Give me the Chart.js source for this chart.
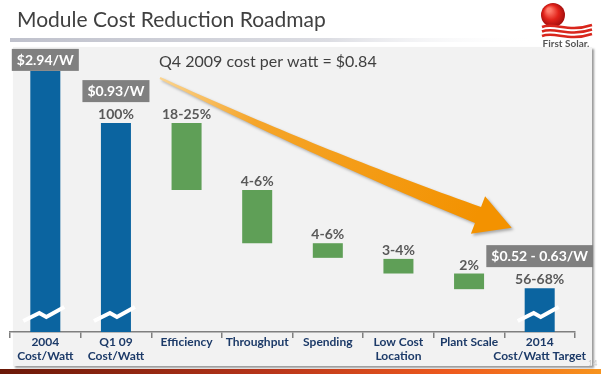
<!DOCTYPE html>
<html>
<head>
<meta charset="utf-8">
<script src="https://cdn.jsdelivr.net/npm/chart.js@4.4.1/dist/chart.umd.min.js"></script>
<style>
  body { margin: 0; background: #fff; }
  #wrap { width: 601px; height: 374px; }
</style>
</head>
<body>
<div id="wrap"><canvas id="roadmap" width="601" height="374"></canvas></div>
<script>
// categories along the bottom
const categories = [['2004', 'Cost/Watt'], ['Q1 09', 'Cost/Watt'], 'Efficiency', 'Throughput',
  'Spending', ['Low Cost', 'Location'], 'Plant Scale', ['2014', 'Cost/Watt Target']];
// bar bottoms and tops (visual scale, Q1 09 bar = 100; axis is broken)
const barLow = [0, 0, 68, 42.5, 35.5, 28, 20.5, 0];
const barHigh = [125, 100, 100, 68, 42.5, 35, 28, 21];
const barType = ['cost', 'cost', 'step', 'step', 'step', 'step', 'step', 'cost'];
const pctLabels = ['', '100%', '18-25%', '4-6%', '4-6%', '3-4%', '2%', '56-68%'];
const priceLabels = ['$2.94/W', '$0.93/W', '', '', '', '', '', '$0.52 - 0.63/W'];
const breakAt = 8.6;

const BLUE = '#0b64a0';
const GREEN = '#5f9f57';

function drawArrow(ctx) {
  const p0 = {x: 160, y: 78}, c = {x: 320, y: 155}, p2 = {x: 478, y: 215};
  const top = [], bot = [];
  let dir, nrm;
  for (let i = 0; i <= 40; i++) {
    const t = i / 40, u = 1 - t;
    const x = u * u * p0.x + 2 * u * t * c.x + t * t * p2.x;
    const y = u * u * p0.y + 2 * u * t * c.y + t * t * p2.y;
    const dx = 2 * u * (c.x - p0.x) + 2 * t * (p2.x - c.x);
    const dy = 2 * u * (c.y - p0.y) + 2 * t * (p2.y - c.y);
    const len = Math.hypot(dx, dy);
    dir = {x: dx / len, y: dy / len};
    nrm = {x: dir.y, y: -dir.x};
    const w = 1 + 7.5 * t;
    top.push([x + nrm.x * w, y + nrm.y * w]);
    bot.push([x - nrm.x * w, y - nrm.y * w]);
  }
  ctx.save();
  ctx.beginPath();
  top.forEach((p, i) => i ? ctx.lineTo(p[0], p[1]) : ctx.moveTo(p[0], p[1]));
  ctx.lineTo(p2.x + nrm.x * 20, p2.y + nrm.y * 20);
  ctx.lineTo(p2.x + dir.x * 36, p2.y + dir.y * 36);
  ctx.lineTo(p2.x - nrm.x * 20, p2.y - nrm.y * 20);
  for (let i = bot.length - 1; i >= 0; i--) ctx.lineTo(bot[i][0], bot[i][1]);
  ctx.closePath();
  const g = ctx.createLinearGradient(p0.x, p0.y, p2.x, p2.y);
  g.addColorStop(0, '#fbd48f');
  g.addColorStop(0.3, '#f5a52a');
  g.addColorStop(1, '#f39200');
  ctx.fillStyle = g;
  ctx.shadowColor = 'rgba(0,0,0,0.3)';
  ctx.shadowOffsetX = 2;
  ctx.shadowOffsetY = 2;
  ctx.shadowBlur = 3;
  ctx.fill();
  ctx.restore();
}

function drawLogo(ctx) {
  ctx.save();
  const rg = ctx.createRadialGradient(549, 10, 2, 553, 15, 13);
  rg.addColorStop(0, '#ff7b6b');
  rg.addColorStop(0.5, '#e2231a');
  rg.addColorStop(1, '#9a0c0c');
  ctx.fillStyle = rg;
  ctx.beginPath();
  ctx.arc(553, 15, 12, 0, Math.PI * 2);
  ctx.fill();
  ctx.strokeStyle = '#d9261c';
  ctx.lineWidth = 2.5;
  [27, 31.5, 36].forEach(b => {
    ctx.beginPath();
    ctx.moveTo(542, b);
    ctx.bezierCurveTo(555, b - 5, 568, b + 6, 592, b - 2);
    ctx.stroke();
  });
  ctx.fillStyle = '#555';
  ctx.font = 'bold 10px Lato';
  ctx.textAlign = 'center';
  ctx.textBaseline = 'middle';
  ctx.fillText('First Solar.', 566, 44);
  ctx.restore();
}

const deco = {
  id: 'deco',
  beforeDraw(chart) {
    const ctx = chart.ctx;
    ctx.save();
    ctx.fillStyle = '#fff';
    ctx.fillRect(0, 0, chart.width, chart.height);
    // title
    ctx.fillStyle = '#404040';
    ctx.font = '21px Lato';
    ctx.textBaseline = 'alphabetic';
    ctx.fillText('Module Cost Reduction Roadmap', 17, 27);
    // separator under title
    const sg = ctx.createLinearGradient(10, 0, 540, 0);
    sg.addColorStop(0, '#bfc1cc');
    sg.addColorStop(0.6, '#dcdde3');
    sg.addColorStop(1, 'rgba(255,255,255,0)');
    ctx.fillStyle = sg;
    ctx.fillRect(10, 38, 530, 4);
    // panel
    ctx.save();
    ctx.shadowColor = 'rgba(0,0,0,0.4)';
    ctx.shadowOffsetX = 2;
    ctx.shadowOffsetY = 2;
    ctx.shadowBlur = 2;
    ctx.fillStyle = '#f2f2f2';
    ctx.fillRect(13, 47, 579, 319);
    ctx.restore();
    // bottom bar
    const bg = ctx.createLinearGradient(0, 0, 601, 0);
    bg.addColorStop(0, '#6a1808');
    bg.addColorStop(0.45, '#b8351a');
    bg.addColorStop(0.75, '#ee5a1e');
    bg.addColorStop(1, '#f7941d');
    ctx.fillStyle = bg;
    ctx.fillRect(0, 369, 601, 5);
    ctx.restore();
    drawLogo(ctx);
  },
  afterDatasetsDraw(chart) {
    const ctx = chart.ctx;
    const y = chart.scales.y;
    const bars = chart.getDatasetMeta(0).data;
    ctx.save();
    // axis break marks
    ctx.strokeStyle = '#fff';
    ctx.lineWidth = 4;
    ctx.lineJoin = 'miter';
    bars.forEach((el, i) => {
      if (barLow[i] !== 0) return;
      const cx = el.x, yb = y.getPixelForValue(breakAt);
      ctx.beginPath();
      ctx.moveTo(cx - 22, yb + 7);
      ctx.lineTo(cx - 6, yb - 1);
      ctx.lineTo(cx + 1, yb + 3);
      ctx.lineTo(cx + 19, yb - 7);
      ctx.stroke();
    });
    // percent labels and price boxes
    ctx.textAlign = 'center';
    bars.forEach((el, i) => {
      const topY = Math.min(el.y, el.base);
      if (pctLabels[i]) {
        ctx.fillStyle = '#595959';
        ctx.font = 'bold 14px Lato';
        ctx.textBaseline = 'alphabetic';
        ctx.fillText(pctLabels[i], el.x, topY - 4);
      }
      if (priceLabels[i]) {
        ctx.font = 'bold 14px Lato';
        const w = ctx.measureText(priceLabels[i]).width + 10;
        const bottom = pctLabels[i] ? topY - 21 : topY;
        ctx.fillStyle = '#808080';
        ctx.fillRect(el.x - w / 2, bottom - 22, w, 22);
        ctx.fillStyle = '#fff';
        ctx.textBaseline = 'middle';
        ctx.fillText(priceLabels[i], el.x, bottom - 10.5);
      }
    });
    ctx.restore();
    drawArrow(ctx);
    ctx.save();
    ctx.fillStyle = '#404040';
    ctx.font = '16px Lato';
    ctx.textBaseline = 'alphabetic';
    ctx.fillText('Q4 2009 cost per watt = $0.84', 159, 67);
    ctx.fillStyle = '#c8c8c8';
    ctx.font = '8px Lato';
    ctx.fillText('14', 588, 366);
    ctx.restore();
  }
};

new Chart(document.getElementById('roadmap'), {
  type: 'bar',
  data: {
    labels: categories,
    datasets: [{
      data: barLow.map((lo, i) => [lo, barHigh[i]]),
      backgroundColor: barType.map(t => t === 'cost' ? BLUE : GREEN),
      borderWidth: 0,
      borderSkipped: false,
      categoryPercentage: 1,
      barPercentage: 0.425
    }]
  },
  options: {
    responsive: false,
    animation: false,
    devicePixelRatio: 1,
    layout: { padding: { left: 10, right: 26, top: 50, bottom: 6 } },
    plugins: { legend: { display: false }, tooltip: { enabled: false } },
    scales: {
      y: { display: false, min: 0, max: 135 },
      x: {
        afterFit(scale) { scale.height = 36; },
        border: { display: true, color: '#7f7f7f', width: 1.5 },
        grid: { offset: true, drawOnChartArea: false, drawTicks: true, tickLength: 6, color: '#7f7f7f', lineWidth: 1.5 },
        ticks: {
          padding: -2,
          color: '#1c3a68',
          font: { family: 'Lato', weight: 'bold', size: 12, lineHeight: 1.1 },
          maxRotation: 0,
          autoSkip: false
        }
      }
    }
  },
  plugins: [deco]
});
</script>
</body>
</html>
